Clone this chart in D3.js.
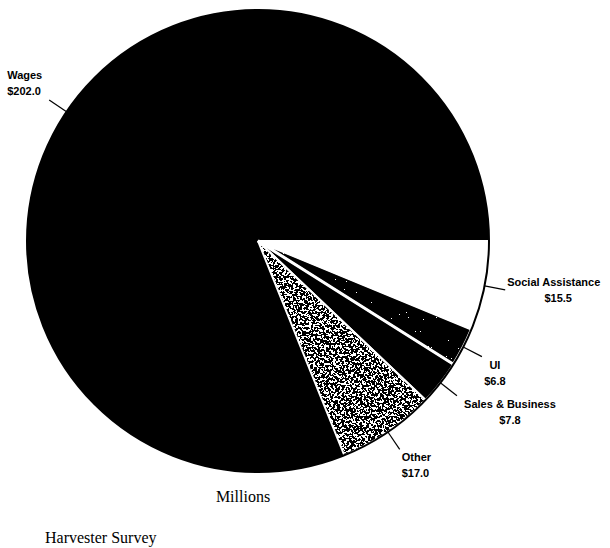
<!DOCTYPE html>
<html>
<head>
<meta charset="utf-8">
<script src="https://cdn.jsdelivr.net/npm/d3@7"></script>
<style>
  html, body { margin: 0; padding: 0; background: #fff; }
  svg { display: block; }
  .lbl { font-family: "Liberation Sans", Arial, sans-serif; font-weight: bold; font-size: 11px; fill: #000; }
  .cap { font-family: "Liberation Serif", "Times New Roman", serif; font-size: 16px; fill: #000; }
</style>
</head>
<body>
<svg id="chart" width="610" height="548"></svg>
<script>
// Household income sources, millions of dollars
const categories = ["Social Assistance", "UI", "Sales & Business", "Other", "Wages"];
const values = [15.5, 6.8, 7.8, 17.0, 202.0];
const valueLabels = ["$15.5", "$6.8", "$7.8", "$17.0", "$202.0"];

// Label placement relative to the outer end of each leader line
const labelLayout = [
  { dx: 2,   dy: -4,  anchor: "start",  vdx: 53 },
  { dx: 13,  dy: 12,  anchor: "middle", vdx: 13 },
  { dx: 53,  dy: 12,  anchor: "middle", vdx: 53 },
  { dx: 2,   dy: 12,  anchor: "start",  vdx: 2 },
  { dx: -42, dy: -21, anchor: "start",  vdx: -42 }
];
const fills = ["#fff", "#000", "#000", "#000", "#000"];
const textures = [null, "dark", null, "grain", null];

const svg = d3.select("#chart");
const cx = 258, cy = 241, r = 231;

const defs = svg.append("defs");

// Threshold table: transparent below the cut level, opaque above it
function stepTable(n, cut) {
  return d3.range(n).map(k => (k < cut ? 0 : 1)).join(" ");
}

// Speckled texture: thresholded noise over white, clipped to the shape
function speckle(id, freq, table, seed) {
  const f = defs.append("filter").attr("id", id)
    .attr("x", "-5%").attr("y", "-5%").attr("width", "110%").attr("height", "110%")
    .attr("color-interpolation-filters", "sRGB");
  f.append("feTurbulence").attr("type", "fractalNoise").attr("baseFrequency", freq)
    .attr("numOctaves", 3).attr("seed", seed).attr("stitchTiles", "noStitch").attr("result", "noise");
  f.append("feColorMatrix").attr("in", "noise").attr("type", "matrix")
    .attr("values", "0 0 0 0 0  0 0 0 0 0  0 0 0 0 0  1 0 0 0 0").attr("result", "alpha");
  const ct = f.append("feComponentTransfer").attr("in", "alpha").attr("result", "dots");
  ct.append("feFuncA").attr("type", "discrete").attr("tableValues", table);
  f.append("feFlood").attr("flood-color", "#fff").attr("result", "paper");
  f.append("feComposite").attr("in", "dots").attr("in2", "paper").attr("operator", "over").attr("result", "tex");
  f.append("feComposite").attr("in", "tex").attr("in2", "SourceGraphic").attr("operator", "in");
}
speckle("grain", 0.45, stepTable(40, 19), 7);
speckle("dark", 0.6, stepTable(10, 2), 3);

const pie = d3.pie().sort(null)
  .startAngle(Math.PI / 2).endAngle(Math.PI / 2 + 2 * Math.PI);
const arcs = pie(values);
const arc = d3.arc().innerRadius(0).outerRadius(r);

const g = svg.append("g").attr("transform", `translate(${cx},${cy})`);

g.selectAll("path.slice").data(arcs).join("path")
  .attr("class", "slice")
  .attr("d", arc)
  .attr("fill", (d, i) => fills[i])
  .attr("filter", (d, i) => textures[i] ? `url(#${textures[i]})` : null);

// White separators between the slices
g.selectAll("path.sep").data(arcs.slice(0, 4)).join("path")
  .attr("class", "sep")
  .attr("d", arc)
  .attr("fill", "none")
  .attr("stroke", "#fff")
  .attr("stroke-width", (d, i) => i === 1 ? 3 : 2)
  .attr("stroke-linejoin", "miter");

// Outer rim
g.append("circle").attr("r", r).attr("fill", "none")
  .attr("stroke", "#000").attr("stroke-width", 2);

// Leader lines from the rim along each slice's mid-angle, with labels
const inner = d3.arc().innerRadius(r).outerRadius(r);
const outer = d3.arc().innerRadius(r + 21).outerRadius(r + 21);
arcs.forEach((d, i) => {
  const a = inner.centroid(d), b = outer.centroid(d);
  const L = labelLayout[i];
  g.append("line")
    .attr("x1", a[0]).attr("y1", a[1]).attr("x2", b[0]).attr("y2", b[1])
    .attr("stroke", "#000").attr("stroke-width", 1.2);
  g.append("text").attr("class", "lbl")
    .attr("text-anchor", L.anchor)
    .attr("x", b[0] + L.dx).attr("y", b[1] + L.dy)
    .text(categories[i]);
  g.append("text").attr("class", "lbl")
    .attr("text-anchor", L.vdx !== L.dx ? "middle" : L.anchor)
    .attr("x", b[0] + L.vdx).attr("y", b[1] + L.dy + 16)
    .text(valueLabels[i]);
});

svg.append("text").attr("class", "cap").attr("x", 243).attr("y", 502)
  .attr("text-anchor", "middle").text("Millions");
svg.append("text").attr("class", "cap").attr("x", 45).attr("y", 543)
  .text("Harvester Survey");
</script>
</body>
</html>
